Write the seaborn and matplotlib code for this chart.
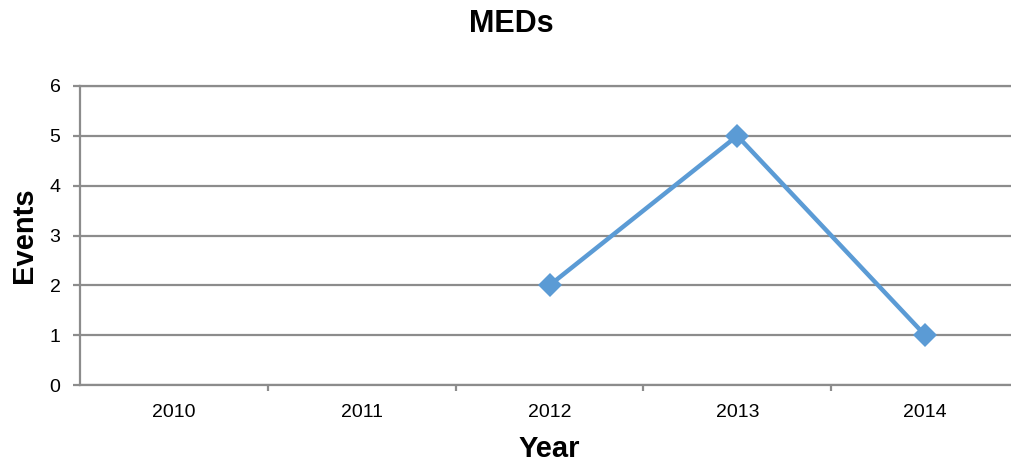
import numpy as np
import pandas as pd
import seaborn as sns
import matplotlib.pyplot as plt

years = [2010, 2011, 2012, 2013, 2014]
events = [np.nan, np.nan, 2, 5, 1]

df = pd.DataFrame({'Year': years, 'Events': events})

sns.set_theme(style='white', rc={'text.color': 'black', 'axes.labelcolor': 'black',
                                 'xtick.color': 'black', 'ytick.color': 'black'})
plt.rcParams['font.family'] = ['Liberation Sans', 'DejaVu Sans']

grid_color = '#8c8c8c'
line_color = '#5b9bd5'

fig = plt.figure(figsize=(10.11, 4.63), dpi=100)
ax = fig.add_axes([80 / 1011, 78 / 463, 939 / 1011, 299 / 463])

sns.lineplot(data=df, x='Year', y='Events', ax=ax, color=line_color,
             linewidth=3.2, marker='D', markersize=12, markeredgewidth=0)

ax.set_xlim(years[0] - 0.5, years[-1] + 0.5)
ax.set_ylim(0, 6)
ax.set_yticks(range(0, 7))
ax.set_xticks(years)
ax.set_xticklabels([str(y) for y in years])
ax.set_xticks([y + 0.5 for y in years[:-1]], minor=True)

ax.yaxis.grid(True, color=grid_color, linewidth=1.6)
ax.set_axisbelow(True)
ax.spines['right'].set_visible(False)
for side in ['left', 'bottom', 'top']:
    ax.spines[side].set_color(grid_color)
    ax.spines[side].set_linewidth(1.6)

ax.tick_params(axis='y', which='major', direction='out', length=5, width=1.6,
               color=grid_color, labelcolor='black', labelsize=14, pad=9, left=True)
ax.tick_params(axis='x', which='major', length=0, labelsize=14, pad=14,
               labelcolor='black')
ax.tick_params(axis='x', which='minor', direction='out', length=4, width=1.6,
               color=grid_color, bottom=True)

ax.set_xlabel('Year', fontsize=21, fontweight='bold', labelpad=10, color='black')
ax.set_ylabel('Events', fontsize=21, fontweight='bold', labelpad=8, color='black')

fig.text(511 / 1011, 1 - 24 / 463, 'MEDs', ha='center', va='center',
         fontsize=22, fontweight='bold', color='black')

fig.savefig('out.png', dpi=100)
